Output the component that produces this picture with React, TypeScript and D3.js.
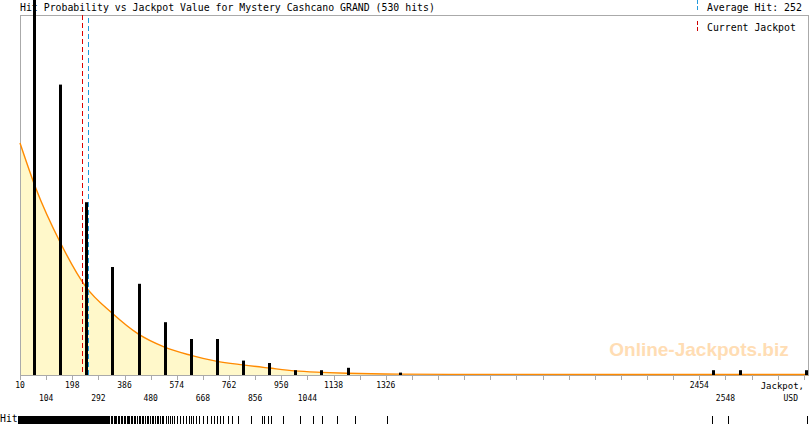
import React from "react";
import * as d3 from "d3";

// bins of hits: centre value of each bin and number of hits
const binCentres = [57, 151, 245, 339, 433, 527, 621, 715, 809, 903, 997, 1091, 1185, 1373, 2501, 2595, 2834];
const binCounts = [177, 121, 72, 45, 38, 22, 15, 15, 6, 5, 2, 2, 3, 1, 2, 2, 2];

// fitted probability curve (value, hits)
const curveValues = [10, 68, 154, 247, 341, 435, 528, 622, 715, 812, 906, 999, 1093, 1186, 1374, 1700, 2200, 2845];
const curveHits = [96.7, 77.5, 55.4, 36.7, 25.8, 17.1, 11.7, 8.3, 5.8, 4.2, 2.9, 1.7, 1.1, 0.7, 0.35, 0.25, 0.2, 0.2];

const xTicks = [10, 104, 198, 292, 386, 480, 574, 668, 762, 856, 950, 1044, 1138, 1232, 1326, 1420, 1514, 1608, 1702, 1796, 1890, 1984, 2078, 2172, 2266, 2360, 2454, 2548, 2642, 2736, 2830];
const xLabelled = [10, 104, 198, 292, 386, 480, 574, 668, 762, 856, 950, 1044, 1138, 1326, 2454, 2548];

const currentJackpot = 233;
const averageHit = 252;

// hit rug: solid runs [from, to] and single hits
const rugBands = [[10, 197], [204, 330]];
const rugHits = [337, 341, 348, 352, 355, 363, 366, 373, 377, 384, 388, 395, 399, 402, 409, 413, 420, 424, 431, 438, 442, 449, 453, 460, 467, 471, 478, 485, 489, 496, 503, 507, 514, 521, 525, 535, 543, 550, 557, 564, 575, 586, 596, 607, 618, 625, 632, 643, 654, 668, 683, 697, 708, 719, 730, 740, 758, 773, 794, 841, 881, 888, 902, 913, 956, 1017, 1064, 1097, 1151, 1215, 1330, 2500, 2557, 2840];

const MONO = "'DejaVu Sans Mono', monospace";

export default function App() {
  const width = 810, height = 425;
  const left = 20, right = 808, top = 15, bottom = 375;

  const x = d3.scaleLinear().domain([10, 2845]).range([left, right]);
  const y = d3.scaleLinear().domain([0, 150]).range([bottom, top]);

  const pts = curveValues.map((v, i) => [v, curveHits[i]] as [number, number]);
  const area = d3.area<[number, number]>().x(d => x(d[0])).y0(bottom).y1(d => y(d[1])).curve(d3.curveMonotoneX);
  const line = d3.line<[number, number]>().x(d => x(d[0])).y(d => y(d[1])).curve(d3.curveMonotoneX);

  const title = "Hit Probability vs Jackpot Value for Mystery Cashcano GRAND (530 hits)";
  const px = (v: number) => Math.round(x(v)) + 0.5;

  return (
    <svg width={width} height={height} style={{ position: "fixed", left: 0, top: 0, background: "#fff" }}>
      {/* fill under curve */}
      <path d={area(pts) || ""} fill="#FFF8CA" />

      {/* watermark */}
      <text x={699} y={356} textAnchor="middle" fontFamily="'Liberation Sans', Arial, sans-serif" fontWeight="bold" fontSize={19} fill="#FFDDB4">
        Online-Jackpots.biz
      </text>

      {/* frame */}
      <line x1={left} x2={right + 0.5} y1={top + 0.5} y2={top + 0.5} stroke="#aaa" />
      <line x1={left + 0.5} x2={left + 0.5} y1={top} y2={bottom} stroke="#aaa" />
      <line x1={right + 0.5} x2={right + 0.5} y1={top} y2={bottom} stroke="#aaa" />
      <line x1={left} x2={right + 1} y1={bottom + 0.5} y2={bottom + 0.5} stroke="#aaa" />

      {/* curve */}
      <path d={line(pts) || ""} fill="none" stroke="#FF8A00" strokeWidth={1.4} />

      {/* x ticks */}
      {xTicks.map(t => (
        <line key={t} x1={px(t)} x2={px(t)} y1={bottom} y2={bottom + 5} stroke="#aaa" />
      ))}
      {xLabelled.map(t => {
        const idx = xTicks.indexOf(t);
        return (
          <text key={t} x={x(t)} y={idx % 2 === 0 ? 388 : 400.5} textAnchor="middle" fontFamily={MONO} fontSize={8} fill="#000">
            {t}
          </text>
        );
      })}
      <text x={804} y={389} textAnchor="end" fontFamily={MONO} fontSize={9} fill="#000">Jackpot,</text>
      <text x={798} y={400.5} textAnchor="end" fontFamily={MONO} fontSize={8} fill="#000">USD</text>

      {/* title and legend */}
      <text x={20} y={10.5} fontFamily={MONO} fontSize={9.85} fill="#000">{title}</text>
      <text x={707} y={10.5} fontFamily={MONO} fontSize={9.85} fill="#000">Average Hit: {averageHit}</text>
      <text x={707} y={31} fontFamily={MONO} fontSize={9.85} fill="#000">Current Jackpot</text>
      <line x1={697.5} x2={697.5} y1={0} y2={10} stroke="#2299DD" strokeDasharray="4,2" />
      <line x1={697.5} x2={697.5} y1={21} y2={33} stroke="#CC0000" strokeDasharray="4,2" />

      {/* bars */}
      {binCentres.map((c, i) => (
        <rect key={c} x={Math.min(Math.round(x(c)), right - 3)} width={3} y={y(binCounts[i])} height={bottom - y(binCounts[i])} fill="#000" />
      ))}

      {/* current jackpot and average hit */}
      <line x1={px(currentJackpot)} x2={px(currentJackpot)} y1={top} y2={bottom} stroke="#DD0000" strokeDasharray="5,3" />
      <line x1={px(averageHit) + 1} x2={px(averageHit) + 1} y1={top + 3} y2={bottom} stroke="#1E9BDC" strokeDasharray="5,3" />

      {/* hits rug */}
      <text x={0} y={422} fontFamily={MONO} fontSize={9.85} fill="#000">Hits:</text>
      {rugBands.map(([a, b]) => (
        <rect key={a} x={Math.round(x(a)) - 2} width={Math.round(x(b)) - Math.round(x(a)) + 3} y={416} height={8} fill="#000" />
      ))}
      {rugHits.map(v => (
        <line key={v} x1={px(v)} x2={px(v)} y1={416} y2={424} stroke="#000" />
      ))}
    </svg>
  );
}
